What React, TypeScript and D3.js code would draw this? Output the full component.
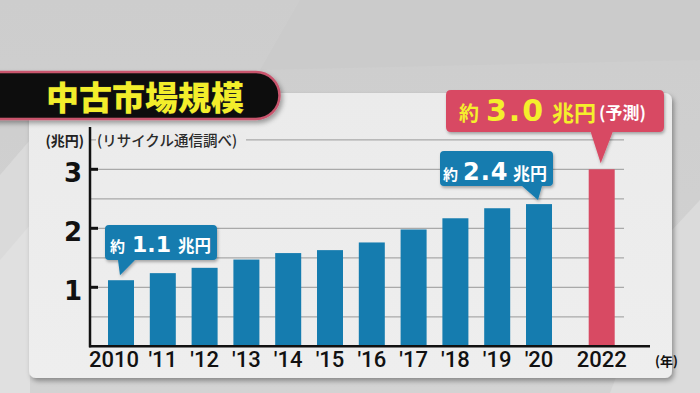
import * as d3 from "d3";

const years = ["2010", "'11", "'12", "'13", "'14", "'15", "'16", "'17", "'18", "'19", "'20", "2022"];
const values = [1.12, 1.24, 1.33, 1.47, 1.58, 1.63, 1.76, 1.98, 2.17, 2.34, 2.41, 3.0];
const forecast = [false, false, false, false, false, false, false, false, false, false, false, true];
const yTicks = [1, 2, 3];
const gridValues = [0.5, 1, 1.5, 2, 2.5, 3, 3.5];

const W = 700;
const H = 393;
const BLUE = "#157caf";
const RED = "#d84a63";
const CJK = "'Noto Sans CJK JP', 'Noto Sans', sans-serif";
const NUM = "'DejaVu Sans', Verdana, sans-serif";

// forecast bar sits half a slot further right
const slot = (i: number) => i + (forecast[i] ? 0.5 : 0);

export default function App() {
  const x = d3.scaleLinear().domain([0, 11.5]).range([121, 601.7]);
  const y = d3.scaleLinear().domain([0, 3.5]).range([346.3, 139.8]);
  const barW = 26;
  const axisX = 90;

  const last = years.length - 1;
  const x0 = x(slot(0));
  const x20 = x(slot(10));
  const x22 = x(slot(last));

  return (
    <div style={{ position: "absolute", left: 0, top: 0 }}>
      <svg width={W} height={H} style={{ display: "block" }}>
        <defs>
          <linearGradient id="bg" x1="0" y1="0" x2="0" y2="1">
            <stop offset="0" stopColor="#cdcdcd" />
            <stop offset="1" stopColor="#d3d3d3" />
          </linearGradient>
          <linearGradient id="card" x1="0" y1="0" x2="0" y2="1">
            <stop offset="0" stopColor="#ebebeb" />
            <stop offset="1" stopColor="#eeeeee" />
          </linearGradient>
          <filter id="shadow" x="-10%" y="-10%" width="120%" height="130%">
            <feDropShadow dx="2" dy="3" stdDeviation="2.5" floodColor="#000" floodOpacity="0.35" />
          </filter>
          <filter id="soft" x="-10%" y="-20%" width="120%" height="150%">
            <feDropShadow dx="1" dy="2" stdDeviation="1.5" floodColor="#000" floodOpacity="0.3" />
          </filter>
        </defs>

        {/* background */}
        <rect width={W} height={H} fill="url(#bg)" />
        <path d="M0,175 L30,140 L30,393 L0,393 Z" fill="#dadada" />
        <path d="M0,260 L30,225 L30,393 L0,393 Z" fill="#e0e0e0" />
        <path d="M672,230 L700,200 L700,393 L610,393 Z" fill="#dbdbdb" />
        <path d="M300,0 L700,0 L700,60 L260,70 Z" fill="#cbcbcb" />

        {/* card */}
        <rect x={29} y={93} width={643} height={285} rx={7} fill="url(#card)" filter="url(#shadow)" />

        {/* grid */}
        {gridValues.map((v) => (
          <line key={v} x1={axisX} x2={624} y1={y(v)} y2={y(v)} stroke="#a9a9a9" strokeWidth={1.2} />
        ))}

        {/* source note over top grid line */}
        <rect x={96} y={132} width={150} height={16} fill="#ebebeb" />
        <text x={97} y={146} fontFamily={CJK} fontSize={14.5} fontWeight={500} fill="#2a2a2a">
          (リサイクル通信調べ)
        </text>
        <text x={84} y={146} textAnchor="end" fontFamily={CJK} fontSize={14} fontWeight={700} fill="#222">
          (兆円)
        </text>

        {/* bars */}
        {values.map((v, i) => (
          <rect
            key={years[i]}
            x={x(slot(i)) - barW / 2}
            y={y(v)}
            width={barW}
            height={y(0) - y(v)}
            fill={forecast[i] ? RED : BLUE}
          />
        ))}

        {/* axes */}
        <line x1={axisX} x2={axisX} y1={127} y2={y(0) + 1} stroke="#111" strokeWidth={2.5} />
        <line x1={axisX - 1} x2={650} y1={y(0)} y2={y(0)} stroke="#111" strokeWidth={2.5} />
        {yTicks.map((t) => (
          <g key={t}>
            <line x1={axisX} x2={axisX + 8} y1={y(t)} y2={y(t)} stroke="#111" strokeWidth={3} />
            <text x={82} y={y(t) + 12.5} textAnchor="end" fontFamily={NUM} fontSize={26} fontWeight={700} fill="#111">
              {t}
            </text>
          </g>
        ))}
        {years.map((yr, i) => (
          <text
            key={yr}
            x={x(slot(i)) - (i === 0 ? 7 : 0)}
            y={367}
            textAnchor="middle"
            fontFamily="Roboto, 'Liberation Sans', sans-serif"
            fontSize={22}
            fontWeight={500}
            fill="#111"
          >
            {yr}
          </text>
        ))}
        <text x={655} y={366} fontFamily={CJK} fontSize={13} fontWeight={700} fill="#111">
          (年)
        </text>

        {/* callout 2010 */}
        <g filter="url(#soft)">
          <path
            d={`M105,229 Q105,225 109,225 L213,225 Q217,225 217,229 L217,256 Q217,260 213,260 L${x0 + 14},260 L${x0 - 1},${y(values[0]) - 5} L${x0 - 3},260 L109,260 Q105,260 105,256 Z`}
            fill={BLUE}
          />
        </g>
        <text y={252} fill="#fff" fontWeight={700}>
          <tspan x={110} fontFamily={CJK} fontSize={15}>約</tspan>
          <tspan x={132} fontFamily={NUM} fontSize={22}>{values[0].toFixed(1)}</tspan>
          <tspan x={178} fontFamily={CJK} fontSize={16.5}>兆円</tspan>
        </text>

        {/* callout 2020 */}
        <g filter="url(#soft)">
          <path
            d={`M440,155 Q440,151 444,151 L549,151 Q553,151 553,155 L553,182 Q553,186 549,186 L${x20 + 3},186 L${x20 - 1},${y(values[10]) - 4} L${x20 - 17},186 L444,186 Q440,186 440,182 Z`}
            fill={BLUE}
          />
        </g>
        <text y={180} fill="#fff" fontWeight={700}>
          <tspan x={443} fontFamily={CJK} fontSize={15}>約</tspan>
          <tspan x={463} fontFamily={NUM} fontSize={24} letterSpacing={1}>{values[10].toFixed(1)}</tspan>
          <tspan x={513} fontFamily={CJK} fontSize={17}>兆円</tspan>
        </text>

        {/* callout 2022 forecast */}
        <g filter="url(#soft)">
          <path
            d={`M446,95 Q446,90 451,90 L659,90 Q664,90 664,95 L664,127 Q664,132 659,132 L${x22 + 11},132 L${x22 - 1},${y(values[last]) - 6} L${x22 - 11},132 L451,132 Q446,132 446,127 Z`}
            fill={RED}
          />
        </g>
        <text y={121} fontWeight={700}>
          <tspan x={459} fontFamily={CJK} fontSize={20} fill="#f5ef2c">約</tspan>
          <tspan x={486} fontFamily={NUM} fontSize={30} letterSpacing={2} fill="#f5ef2c">{values[last].toFixed(1)}</tspan>
          <tspan x={552} fontFamily={CJK} fontSize={22} fill="#f5ef2c">兆円</tspan>
          <tspan x={599} dy={-2} fontFamily={CJK} fontSize={17} fill="#fff">(予測)</tspan>
        </text>

        {/* title banner */}
        <g filter="url(#shadow)">
          <path d="M-10,72 L256,72 A23.5,23.5 0 0 1 256,119 L-10,119 Z" fill="#111" stroke="#c9546d" strokeWidth={2.5} />
        </g>
        <text
          x={145}
          y={110}
          textAnchor="middle"
          fontFamily={CJK}
          fontSize={33}
          fontWeight={900}
          fill="#f3ee2b"
          stroke="#222"
          strokeWidth={1}
          paintOrder="stroke"
        >
          中古市場規模
        </text>
      </svg>
    </div>
  );
}
